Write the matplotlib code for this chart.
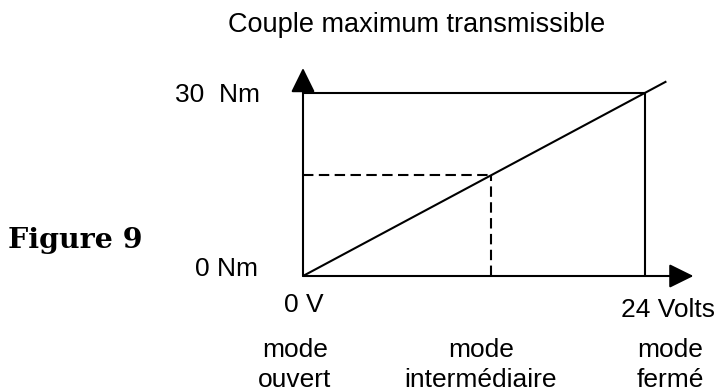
import matplotlib
matplotlib.use("Agg")
import matplotlib.pyplot as plt

# Values (volts / newton-metres)
volts_span = [0, 24]
torque_span = [0, 30]
line_volts = [0, 25.5]
line_torque = [0, 31.9]
mid_volt = 13.2
mid_torque = 16.5
arrow_x_end = 27.4
arrow_y_end = 34.1

title = "Couple maximum transmissible"
y_labels = ["0 Nm", "30  Nm"]
x_labels = ["0 V", "24 Volts"]
mode_names = ["ouvert", "intermédiaire", "fermé"]

W, H, DPI = 717, 392, 100
plt.rcParams['font.family'] = ['Liberation Sans', 'DejaVu Sans']

fig = plt.figure(figsize=(W / DPI, H / DPI), dpi=DPI)
# origin at pixel (303, 276), point (24 V, 30 Nm) at pixel (645, 93)
ax = fig.add_axes([303 / W, 1 - 276 / H, 342 / W, 183 / H])
ax.set_xlim(volts_span)
ax.set_ylim(torque_span)
ax.axis('off')

lw = 1.5
kw = dict(color='black', lw=lw, clip_on=False, solid_capstyle='butt')

# box of the 24 V / 30 Nm point
ax.plot([0, volts_span[1]], [torque_span[1]] * 2, **kw)
ax.plot([volts_span[1]] * 2, [0, torque_span[1]], **kw)
# characteristic
ax.plot(line_volts, line_torque, **kw)
# intermediate mode, dashed
dkw = dict(kw, linestyle=(0, (5, 2.6)))
ax.plot([0, mid_volt], [mid_torque] * 2, **dkw)
ax.plot([mid_volt] * 2, [0, mid_torque], **dkw)

# axes with arrows
aprops = dict(arrowstyle='-|>,head_length=0.75,head_width=0.37',
              color='black', lw=lw, mutation_scale=20, shrinkA=0, shrinkB=0)
ax.annotate('', xy=(arrow_x_end, 0), xytext=(0, 0), arrowprops=aprops,
            annotation_clip=False)
ax.annotate('', xy=(0, arrow_y_end), xytext=(0, 0), arrowprops=aprops,
            annotation_clip=False)

fs = 19
fig.text(417 / W, 1 - 32 / H, title, fontsize=19.5, ha='center', va='baseline')
fig.text(258 / W, 1 - 276 / H, y_labels[0], fontsize=fs, ha='right', va='baseline')
fig.text(260 / W, 1 - 102 / H, y_labels[1], fontsize=fs, ha='right', va='baseline')
fig.text(304 / W, 1 - 312 / H, x_labels[0], fontsize=fs, ha='center', va='baseline')
fig.text(668 / W, 1 - 317 / H, x_labels[1], fontsize=fs, ha='center', va='baseline')

for cx, name in zip([295, 481, 670], mode_names):
    fig.text(cx / W, 1 - 357 / H, "mode", fontsize=fs, ha='center', va='baseline')
    fig.text(cx / W, 1 - 387 / H, name, fontsize=fs, ha='center', va='baseline')

fig.text(8 / W, 1 - 248 / H, "Figure 9", fontsize=20.5, fontweight='bold',
         family='DejaVu Serif', ha='left', va='baseline')

fig.savefig('out.png', dpi=DPI)
